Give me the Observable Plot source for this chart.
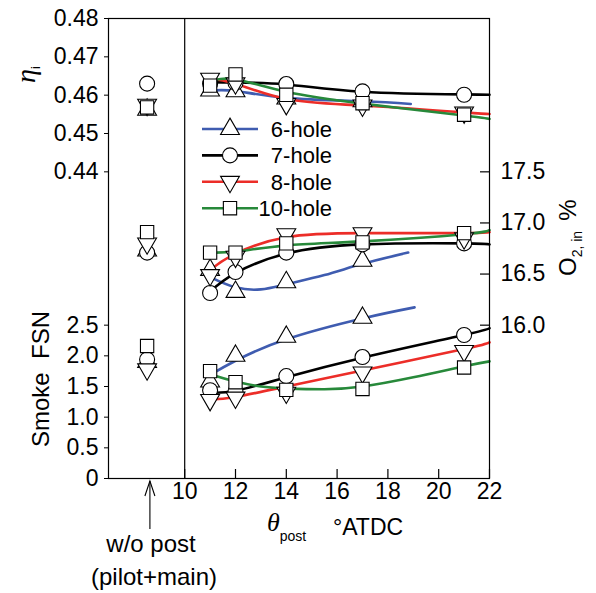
<!DOCTYPE html>
<html><head><meta charset="utf-8">
<script src="https://cdn.jsdelivr.net/npm/d3@7"></script>
<script src="https://cdn.jsdelivr.net/npm/@observablehq/plot@0.6"></script>
<style>body{margin:0;background:#fff;} #chart{width:596px;height:593px;}</style>
</head><body><div id="chart"></div>
<script>
// ---------- data ----------
const thetaPost = [11, 12, 14, 17, 21];
const series = ["6-hole", "7-hole", "8-hole", "10-hole"];
const colors = ["#3f5cb0", "#000000", "#ec2d28", "#27893a"];
const symbolNames = ["triangle", "circle", "triangle", "square"];
const symbolRotate = [0, 0, 180, 0];

// markers (6-hole measured at 11-17 only)
const eta6 = [0.4612, 0.4610, 0.4591, 0.4584];
const eta7 = [0.4630, 0.4632, 0.4629, 0.4610, 0.4601];
const eta8 = [0.4643, 0.4631, 0.4577, 0.4573, 0.4555];
const eta10 = [0.4625, 0.4654, 0.4601, 0.4579, 0.4549];

const o2_6 = [16.54, 16.325, 16.42, 16.63];
const o2_7 = [16.315, 16.52, 16.71, 16.79, 16.80];
const o2_8 = [16.49, 16.67, 16.89, 16.90, 16.85];
const o2_10 = [16.71, 16.71, 16.80, 16.81, 16.90];

const fsn6 = [1.58, 2.00, 2.31, 2.62];
const fsn7 = [1.44, 1.42, 1.67, 1.98, 2.34];
const fsn8 = [1.28, 1.32, 1.40, 1.73, 2.08];
const fsn10 = [1.75, 1.57, 1.445, 1.46, 1.81];

// w/o post (pilot+main), order: 6,7,8,10-hole
const woPostX = 8.52;
const woEta = [0.4562, 0.4630, 0.4575, 0.4568];
const woO2 = [16.73, 16.71, 16.80, 16.91];
const woFsn = [1.90, 1.94, 1.78, 2.16];

// smoothed fit curves: [theta, value]
const etaFit6 = [[11, 0.4612], [12, 0.4611], [14, 0.4593], [17, 0.4584], [18.9, 0.4577]];
const etaFit7 = [[11, 0.4634], [12, 0.4633], [14, 0.4628], [17, 0.4609], [21, 0.4602], [22, 0.4601]];
const etaFit8 = [[11, 0.4643], [12, 0.4630], [14, 0.4590], [17, 0.4573], [21, 0.4555], [22, 0.4551]];
const etaFit10 = [[11, 0.4636], [12, 0.4641], [14, 0.4609], [17, 0.4578], [21, 0.4547], [22, 0.4538]];

const o2Fit6 = [[11, 16.47], [12, 16.37], [13, 16.35], [14, 16.40], [15.5, 16.49], [17, 16.60], [18.8, 16.71]];
const o2Fit7 = [[11, 16.33], [12, 16.51], [14, 16.70], [17, 16.79], [21, 16.80], [22, 16.79]];
const o2Fit8 = [[11, 16.54], [12, 16.70], [14, 16.86], [17, 16.90], [21, 16.90], [22, 16.91]];
const o2Fit10 = [[11, 16.71], [12, 16.72], [14, 16.78], [17, 16.82], [21, 16.89], [22, 16.93]];

const fsnFit6 = [[11.05, 1.70], [12, 1.92], [14, 2.27], [17, 2.61], [19.05, 2.79]];
const fsnFit7 = [[11, 1.40], [12, 1.43], [14, 1.65], [17, 1.97], [21, 2.34], [22, 2.45]];
const fsnFit8 = [[11, 1.29], [12, 1.33], [14, 1.50], [17, 1.76], [21, 2.11], [22, 2.22]];
const fsnFit10 = [[11, 1.70], [12, 1.58], [13, 1.50], [14, 1.47], [15.5, 1.455], [17, 1.50], [19, 1.65], [21, 1.83], [22, 1.91]];

// tick labels
const xTicks = [10, 12, 14, 16, 18, 20, 22];
const etaTicks = [0.44, 0.45, 0.46, 0.47, 0.48];
const etaTickLabels = ["0.44", "0.45", "0.46", "0.47", "0.48"];
const fsnTicks = [0, 0.5, 1.0, 1.5, 2.0, 2.5];
const fsnTickLabels = ["0", "0.5", "1.0", "1.5", "2.0", "2.5"];
const o2Ticks = [16.0, 16.5, 17.0, 17.5];
const o2TickLabels = ["16.0", "16.5", "17.0", "17.5"];

// ---------- stacked-panel mapping onto one vertical scale ----------
const uEta = e => 5 + (e - 0.44) / 0.016;   // 0.44..0.48 -> 5..7.5
const uO2 = o => 2.5 + (o - 16) / 0.6;      // 16..17.5 -> 2.5..5
const uFsn = f => f;                        // 0..2.5

const etaM = [eta6, eta7, eta8, eta10], o2M = [o2_6, o2_7, o2_8, o2_10], fsnM = [fsn6, fsn7, fsn8, fsn10];
const etaF = [etaFit6, etaFit7, etaFit8, etaFit10], o2F = [o2Fit6, o2Fit7, o2Fit8, o2Fit10], fsnF = [fsnFit6, fsnFit7, fsnFit8, fsnFit10];

const TRI_R = 7, OTHER_R = 7.5;
const lineMarks = [], dotMarks = [];
series.forEach((s, i) => {
  const fits = [[etaF[i], uEta], [o2F[i], uO2], [fsnF[i], uFsn]];
  fits.forEach(([pts, f]) => {
    lineMarks.push(Plot.line(pts.map(([x, v]) => ({x, u: f(v)})), {x: "x", y: "u", stroke: colors[i], strokeWidth: 2.6, curve: "natural"}));
  });
});
series.forEach((s, i) => {
  const rows = [];
  [[etaM[i], uEta], [o2M[i], uO2], [fsnM[i], uFsn]].forEach(([vals, f]) => {
    vals.forEach((v, j) => rows.push({x: thetaPost[j], u: f(v)}));
  });
  rows.push({x: woPostX, u: uEta(woEta[i])}, {x: woPostX, u: uO2(woO2[i])}, {x: woPostX, u: uFsn(woFsn[i])});
  const isTri = symbolNames[i] === "triangle";
  dotMarks.push(Plot.dot(rows, {x: "x", y: "u", symbol: symbolNames[i], rotate: symbolRotate[i], r: isTri ? TRI_R : OTHER_R, fill: "white", stroke: "black", strokeWidth: 1.1}));
});

const leftU = [...etaTicks.map(uEta), ...fsnTicks.map(uFsn)];
const leftLab = new Map(leftU.map((u, k) => [u, [...etaTickLabels, ...fsnTickLabels][k]]));
const rightU = o2Ticks.map(uO2);
const rightLab = new Map(rightU.map((u, k) => [u, o2TickLabels[k]]));

const FONT = "'Liberation Sans', Arial, sans-serif";
const W = 596, H = 593, ML = 108, MR = 107, MT = 18, MB = 115;

const plot = Plot.plot({
  width: W, height: H, marginLeft: ML, marginRight: MR, marginTop: MT, marginBottom: MB,
  x: {domain: [7, 22]},
  y: {domain: [0, 7.5]},
  style: {fontFamily: FONT, fontSize: "23px", color: "black", background: "white", overflow: "visible"},
  marks: [
    ...lineMarks,
    ...dotMarks,
    Plot.frame({stroke: "black", strokeWidth: 1.2}),
    Plot.ruleX([10], {stroke: "black", strokeWidth: 1.2}),
    Plot.axisY(leftU, {anchor: "left", tickSize: 4, tickPadding: 6, tickFormat: d => leftLab.get(d), label: null, fontSize: 23}),
    Plot.axisY(rightU, {anchor: "right", tickSize: 0, tickPadding: 11, tickFormat: d => rightLab.get(d), label: null, fontSize: 23}),
    Plot.tickY(rightU, {insetLeft: W - ML - MR - 9, stroke: "black", strokeWidth: 1.2}),
    Plot.axisX(xTicks, {anchor: "bottom", tickSize: 0, tickPadding: 4, tickFormat: d => String(d), label: null, fontSize: 23}),
    Plot.tickX(xTicks, {insetTop: H - MT - MB - 9, stroke: "black", strokeWidth: 1.2})
  ]
});
document.getElementById("chart").appendChild(plot);

// ---------- annotations: labels, legend, arrow ----------
const svg = d3.select(plot);
const xs = plot.scale("x");
const SERIF = "'Liberation Serif', 'Times New Roman', serif";
const txt = () => svg.append("text").attr("fill", "black").attr("text-anchor", "start").attr("font-family", FONT);

// eta_i label (reads upward)
const etaLab = txt().attr("transform", "translate(35,83) rotate(-90)");
etaLab.append("tspan").attr("font-family", SERIF).attr("font-style", "italic").attr("font-size", 28).text("η");
etaLab.append("tspan").attr("font-size", 13).attr("dy", 5).text("i");

// Smoke FSN
txt().attr("transform", "translate(49,379) rotate(-90)").attr("text-anchor", "middle")
  .attr("font-size", 24).attr("xml:space", "preserve").text("Smoke  FSN");

// O2, in %
const o2Lab = txt().attr("transform", "translate(576,276) rotate(-90)").attr("xml:space", "preserve");
o2Lab.append("tspan").attr("font-size", 24).text("O");
o2Lab.append("tspan").attr("font-size", 14).attr("dy", 6).text("2, in");
o2Lab.append("tspan").attr("font-size", 24).attr("dy", -6).attr("dx", 10).text("%");

// x label
const xl = txt().attr("x", 267).attr("y", 531);
xl.append("tspan").attr("font-family", SERIF).attr("font-style", "italic").attr("font-size", 26).text("θ");
xl.append("tspan").attr("font-size", 14).attr("dy", 10).text("post");
txt().attr("x", 333).attr("y", 535).attr("font-size", 23).text("°ATDC");

// w/o post annotation
const ax = xs.apply(8.65);
svg.append("line").attr("x1", ax).attr("x2", ax).attr("y1", 529).attr("y2", 481).attr("stroke", "black").attr("stroke-width", 1.1);
svg.append("path").attr("d", `M${ax - 5},${496} L${ax},${481} L${ax + 5},${496}`).attr("fill", "none").attr("stroke", "black").attr("stroke-width", 1.1);
txt().attr("x", 151).attr("y", 552).attr("text-anchor", "middle").attr("font-size", 24).text("w/o post");
txt().attr("x", 154).attr("y", 585).attr("text-anchor", "middle").attr("font-size", 24).text("(pilot+main)");

// legend
const symMap = {triangle: d3.symbolTriangle, circle: d3.symbolCircle, square: d3.symbolSquare};
series.forEach((s, i) => {
  const y = 129 + i * 26.4;
  const g = svg.append("g").attr("transform", `translate(0,${y})`);
  g.append("line").attr("x1", 202).attr("x2", 258).attr("stroke", colors[i]).attr("stroke-width", 2.6);
  const r = symbolNames[i] === "triangle" ? TRI_R : OTHER_R;
  g.append("path").attr("d", d3.symbol(symMap[symbolNames[i]], Math.PI * r * r)())
    .attr("transform", `translate(230,0) rotate(${symbolRotate[i]})`).attr("fill", "white").attr("stroke", "black").attr("stroke-width", 1.1);
  g.append("text").attr("x", 332).attr("dy", "0.36em").attr("text-anchor", "end").attr("font-family", FONT).attr("font-size", 22).attr("fill", "black").text(s);
});
</script></body></html>
